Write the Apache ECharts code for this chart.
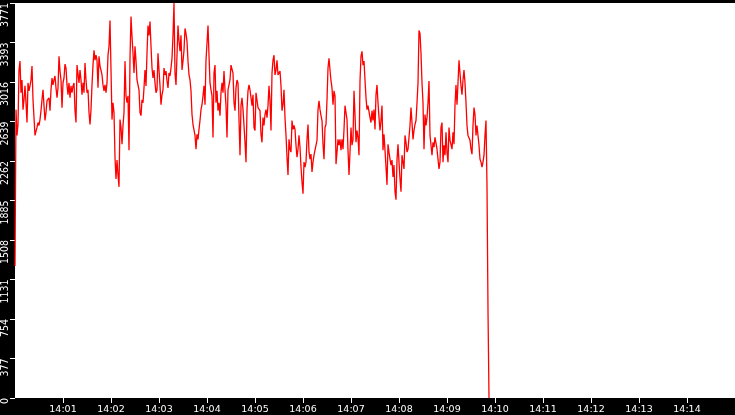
<!DOCTYPE html>
<html>
<head>
<meta charset="utf-8">
<style>
html,body{margin:0;padding:0;background:#000;}
#chart{width:735px;height:415px;}
</style>
<script src="https://cdn.jsdelivr.net/npm/echarts@6/dist/echarts.min.js"></script>
</head>
<body>
<div id="chart"></div>
<script>
// Time of the first sample is 14:00:00, one sample every 1.25 s
const startHour = 14;
const stepSeconds = 1.25;

const values = [
1260,2753,2507,2611,3131,3216,2914,3036,2753,2847,2980,2819,2630,3008,2932,2980,3036,3169,2847,2677,
2507,2517,2583,2630,2602,2658,2743,2847,2942,2791,2649,2725,2838,2847,2866,2743,2942,3055,2989,3036,
3074,2961,2866,2961,3263,3121,3036,2772,3008,3055,3188,3150,2989,2895,3008,2866,2980,2914,2980,3008,
2743,2630,3178,3188,3008,3131,3036,2895,3008,2914,3197,3036,2914,2942,2725,2611,2753,2989,3178,3320,
3225,3273,3225,2961,3263,3169,3131,3084,2989,2932,2989,2914,3008,3273,3358,3603,3131,2658,2819,2725,
2299,2091,2271,2129,2016,2658,2583,2422,2602,2725,3216,2885,2819,2885,2365,3244,3641,3452,3292,3102,
3358,3216,3036,2989,2942,2725,2696,2847,2819,2961,3131,2980,3292,3556,3462,3594,3358,3150,3055,3131,
3008,2914,2942,3292,3131,2980,2800,2895,2942,3150,3084,3121,3027,2961,3102,3074,3150,3244,3462,3771,
3102,2989,3273,3556,3405,3310,3462,3131,3216,3320,3528,3481,3405,3216,3084,3036,2932,2706,2611,2602,
2507,2375,2517,2469,2564,2649,2753,2800,2885,2980,2800,3225,3386,3556,3273,3008,2942,2885,2488,3102,
3178,2819,2932,2743,2819,2696,2914,3008,2914,3121,2942,2791,2488,2942,2989,3036,3178,3197,3102,2819,
2743,2961,3036,3008,2658,2318,2791,2866,2753,2602,2441,2252,2753,2932,2989,2942,2961,2791,2895,2583,
2554,2914,2895,2772,2791,2743,2517,2441,2677,2602,2706,2753,2677,2791,2980,2838,2554,3102,3225,3273,
3084,3131,3225,3084,3102,3121,2980,2743,2800,2942,2677,2507,2299,2129,2469,2375,2347,2649,2564,2602,
2564,2413,2299,2375,2507,2394,2205,2063,1950,2252,2205,2252,2469,2611,2347,2280,2328,2158,2252,2318,
2318,2299,2460,2753,2838,2753,2696,2649,2422,2280,2583,2611,2847,3150,3244,3131,3027,2961,2800,2932,
2885,2233,2347,2469,2413,2469,2365,2469,2375,2564,2791,2725,2658,2365,2129,2347,2583,2413,2469,2932,
2706,2441,2554,2488,2318,3027,3263,3310,3178,3216,3036,2866,2753,2791,2772,2677,2630,2743,2649,2753,
2564,2895,2989,2819,2677,2554,2649,2791,2365,2517,2365,2205,2035,2422,2347,2280,2224,2271,2110,2224,
1969,1893,2271,2422,2252,2091,1969,2318,2318,2186,2507,2441,2347,2375,2488,2602,2772,2630,2469,2554,
2611,2649,2819,3008,3509,3481,3292,3008,2819,2375,2706,2602,2677,2819,3027,2507,2413,2318,2441,2394,
2488,2469,2375,2280,2186,2252,2583,2630,2252,2413,2318,2536,2347,2252,2583,2460,2441,2375,2536,2422,
2800,2989,2800,3008,3225,3102,2980,2895,3036,3131,3008,2819,2602,2507,2517,2460,2375,2328,2602,2772,
2706,2507,2602,2507,2413,2280,2252,2205,2252,2318,2507,2649,2016,835,0
];

const xTickLabels = ['14:01','14:02','14:03','14:04','14:05','14:06','14:07','14:08','14:09','14:10','14:11','14:12','14:13','14:14'];
const xRangeLabels = ['14:00','14:15'];
const yMax = 3771.05;
const yStep = 377.105;

function toSeconds(label) {
  const p = label.split(':').map(Number);
  return (p[0] - startHour) * 3600 + p[1] * 60;
}
const xTickSecs = xTickLabels.map(toSeconds);
const labelBySec = {};
xTickLabels.forEach((l, i) => { labelBySec[xTickSecs[i]] = l; });

const seriesData = values.map((v, i) => [i * stepSeconds, v]);

const chart = echarts.init(document.getElementById('chart'), null, {renderer: 'canvas'});
chart.setOption({
  backgroundColor: '#000',
  animation: false,
  grid: {left: 15, right: 0, top: 0, bottom: 17, show: true, backgroundColor: '#fff', borderWidth: 0},
  xAxis: {
    type: 'value',
    min: toSeconds(xRangeLabels[0]),
    max: toSeconds(xRangeLabels[1]),
    axisLine: {show: false},
    splitLine: {show: false},
    axisTick: {show: true, length: 5, lineStyle: {color: '#fff', width: 1}, customValues: xTickSecs},
    axisLabel: {
      color: '#fff', fontFamily: 'DejaVu Sans', fontSize: 9.5, margin: 7,
      customValues: xTickSecs,
      formatter: v => labelBySec[v] || ''
    }
  },
  yAxis: {
    type: 'value',
    min: 0,
    max: yMax,
    interval: yStep,
    axisLine: {show: false},
    splitLine: {show: false},
    axisTick: {show: true, length: 5, lineStyle: {color: '#fff', width: 1}},
    axisLabel: {
      rotate: 90, align: 'right', verticalAlign: 'bottom', margin: 4,
      color: '#fff', fontFamily: '"Liberation Sans Narrow", "DejaVu Sans Condensed", "Liberation Sans", sans-serif', fontSize: 10.5,
      formatter: v => String(Math.floor(v + 1e-6))
    }
  },
  series: [{
    type: 'line',
    data: seriesData,
    symbol: 'none',
    showSymbol: false,
    silent: true,
    lineStyle: {color: '#ff0000', width: 1.3}
  }]
});
</script>
</body>
</html>
